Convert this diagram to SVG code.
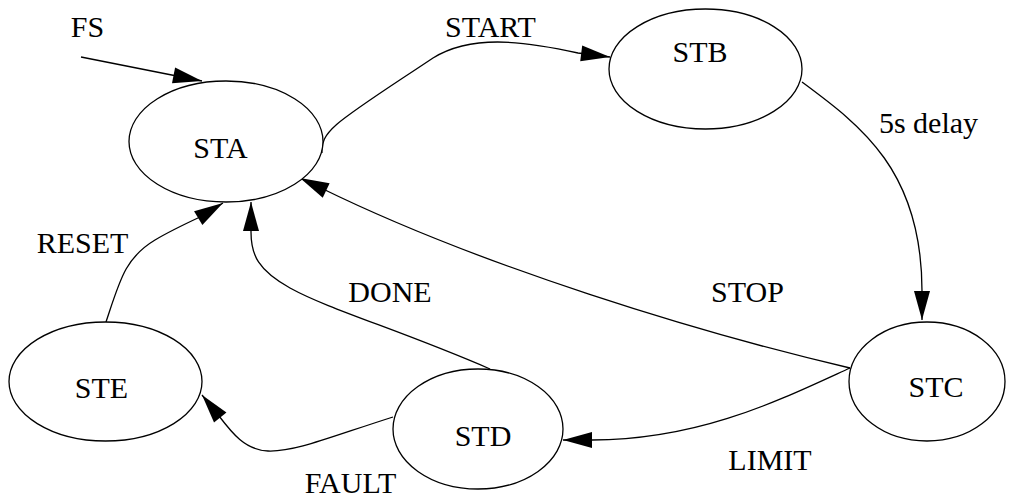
<svg xmlns="http://www.w3.org/2000/svg" width="1011" height="499" viewBox="0 0 1011 499">
<style>
.n{fill:#fff;stroke:#000;stroke-width:1.3}
.e{fill:none;stroke:#000;stroke-width:1.3;marker-end:url(#ah)}
text{font-family:"Liberation Serif","Times New Roman",serif;font-size:30px;fill:#000;text-anchor:middle}
</style>
<defs>
<marker id="ah" markerUnits="userSpaceOnUse" markerWidth="30" markerHeight="16" refX="29" refY="8" orient="auto" overflow="visible">
<path d="M0,0 L29,8 L0,16 z" fill="#000"/>
</marker>
</defs>
<rect width="1011" height="499" fill="#fff"/>
<g id="connectors">
<path class="e" d="M81,57 L202,81"/>
<path class="e" d="M322,153 C320,130 340,120 433,58 C470,35 520,40 578,53 L610,57"/>
<path class="e" d="M802,82 C860,125 922,170 922,291 L922,320"/>
<path class="e" d="M850,368 C700,333 480,266 321,188 L300,178"/>
<path class="e" d="M850,368 C780,400 700,440 592,440 L563,440"/>
<path class="e" d="M490,369 C400,330 330,310 290,288 C258,270 251,255 251,232 L251,202"/>
<path class="e" d="M393,417 C330,437 295,452 268,451 C245,450 232,433 219,416 L202,395"/>
<path class="e" d="M106,322 C120,280 125,258 155,240 C170,231 185,224 200,217 L223,203"/>
</g>
<g id="labels">
<text x="87.5" y="37">FS</text>
<text x="490.5" y="37">START</text>
<text x="928.5" y="133">5s delay</text>
<text x="747.5" y="302">STOP</text>
<text x="390" y="302">DONE</text>
<text x="82.5" y="253">RESET</text>
<text x="770" y="470">LIMIT</text>
<text x="350.5" y="493">FAULT</text>
</g>
<g id="STA"><ellipse class="n" cx="226" cy="141.5" rx="97" ry="60.5"/><text x="220.5" y="158">STA</text></g>
<g id="STB"><ellipse class="n" cx="705.5" cy="69" rx="96.5" ry="60"/><text x="700" y="62">STB</text></g>
<g id="STC"><ellipse class="n" cx="927" cy="381.5" rx="78" ry="59.5"/><text x="936" y="397">STC</text></g>
<g id="STD"><ellipse class="n" cx="478" cy="429" rx="85" ry="60"/><text x="483" y="446">STD</text></g>
<g id="STE"><ellipse class="n" cx="105.5" cy="381.5" rx="96.5" ry="59.5"/><text x="101.5" y="398">STE</text></g>
</svg>
